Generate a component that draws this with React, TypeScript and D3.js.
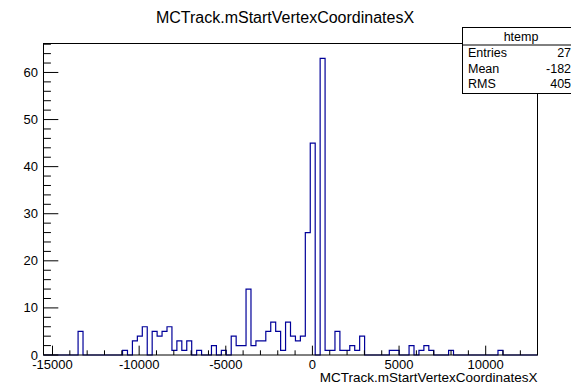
import * as d3 from 'd3';

// htemp: 100 bins, counts
const xMin = -15520;
const xMax = 12990;
const nBins = 100;
const counts = [
  0, 0, 0, 0, 0, 0, 0, 5, 0, 0,
  0, 0, 0, 0, 0, 0, 1, 0, 3, 4,
  6, 0, 5, 4, 5, 6, 1, 3, 1, 3,
  0, 1, 0, 0, 2, 0, 1, 0, 4, 2,
  2, 14, 2, 3, 3, 5, 7, 5, 1, 7,
  4, 3, 4, 26, 45, 0, 63, 1, 1, 5,
  1, 1, 2, 1, 4, 0, 0, 0, 0, 0,
  1, 1, 0, 0, 2, 0, 1, 2, 1, 0,
  0, 0, 1, 0, 0, 0, 0, 0, 0, 0,
  0, 0, 1, 0, 0, 0, 0, 0, 0, 0,
];
const xMajor = [-15000, -10000, -5000, 0, 5000, 10000];
const yMajor = [0, 10, 20, 30, 40, 50, 60];
const statRows = [
  ['Entries', '277'],
  ['Mean', '-1823'],
  ['RMS', '4053'],
];
const title = 'MCTrack.mStartVertexCoordinatesX';

const W = 571;
const H = 385;
const frame = { left: 43.5, right: 537.5, top: 43.5, bottom: 355 };
const font = 'Liberation Sans, Arial, Helvetica, sans-serif';
const histColor = '#000099';

export default function App() {
  const x = d3.scaleLinear().domain([xMin, xMax]).range([frame.left, frame.right]);
  const yMax = d3.max(counts)! * 1.05;
  const y = d3.scaleLinear().domain([0, yMax]).range([frame.bottom, frame.top]);

  const binW = (xMax - xMin) / nBins;
  const pts: [number, number][] = [[xMin, 0]];
  counts.forEach((c, i) => pts.push([xMin + i * binW, c]));
  pts.push([xMax, counts[nBins - 1]]);
  pts.push([xMax, 0]);
  const path = d3
    .line<[number, number]>()
    .x((d) => x(d[0]))
    .y((d) => y(d[1]))
    .curve(d3.curveStepAfter)(pts)!;

  const xMinor = d3.range(-15000, xMax, 1000);
  const yMinor = d3.range(0, yMax, 2);

  const fh = frame.bottom - frame.top;
  const fw = frame.right - frame.left;
  const xTick = 0.03 * fh;
  const yTick = 0.03 * fw;

  const box = { x: 462.5, y: 27.5, w: 120, h: 66 };

  return (
    <svg
      width={W}
      height={H}
      style={{ position: 'absolute', left: 0, top: 0, background: '#fff' }}
      fontFamily={font}
    >
      <rect x={0} y={0} width={W} height={H} fill="#fff" />
      <text x={285} y={23} textAnchor="middle" fontSize={16}>
        {title}
      </text>

      <path d={path} fill="none" stroke={histColor} strokeWidth={1.2} />

      <rect
        x={frame.left}
        y={frame.top}
        width={fw}
        height={fh}
        fill="none"
        stroke="#000"
        strokeWidth={1}
      />

      {/* x axis ticks */}
      {xMinor.map((v) => (
        <line
          key={'xm' + v}
          x1={x(v)}
          x2={x(v)}
          y1={frame.bottom}
          y2={frame.bottom - (v % 5000 === 0 ? xTick : xTick / 2)}
          stroke="#000"
        />
      ))}
      {xMajor.map((v) => (
        <text key={'xl' + v} x={x(v)} y={369} textAnchor="middle" fontSize={13}>
          {v}
        </text>
      ))}

      {/* y axis ticks */}
      {yMinor.map((v) => (
        <line
          key={'ym' + v}
          x1={frame.left}
          x2={frame.left + (v % 10 === 0 ? yTick : yTick / 2)}
          y1={y(v)}
          y2={y(v)}
          stroke="#000"
        />
      ))}
      {yMajor.map((v) => (
        <text key={'yl' + v} x={38} y={y(v) + 4.5} textAnchor="end" fontSize={13}>
          {v}
        </text>
      ))}

      <text x={frame.right} y={382} textAnchor="end" fontSize={13.5}>
        {title}
      </text>

      {/* stats box */}
      <rect x={box.x} y={box.y} width={box.w} height={box.h} fill="#fff" stroke="#000" />
      <line x1={box.x} x2={box.x + box.w} y1={45} y2={45} stroke="#000" />
      <text x={521} y={40.5} textAnchor="middle" fontSize={12.5}>
        htemp
      </text>
      {statRows.map((r, i) => (
        <g key={r[0]}>
          <text x={468} y={57 + i * 15.7} fontSize={12.5}>
            {r[0]}
          </text>
          <text x={578} y={57 + i * 15.7} textAnchor="end" fontSize={12.5}>
            {r[1]}
          </text>
        </g>
      ))}
    </svg>
  );
}
